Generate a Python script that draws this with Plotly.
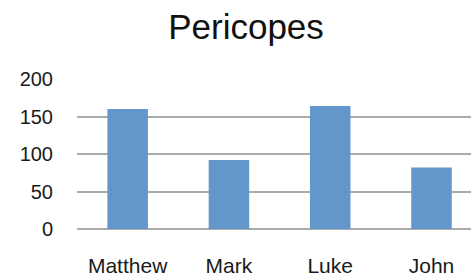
import plotly.graph_objects as go

categories = ["Matthew", "Mark", "Luke", "John"]
values = [160, 92, 164, 82]
y_ticks = [0, 50, 100, 150, 200]

FONT = "Liberation Sans"

fig = go.Figure(
    go.Bar(
        x=categories,
        y=values,
        width=0.4,
        marker=dict(color="#6397CC", line=dict(width=0)),
    )
)

fig.update_layout(
    width=471,
    height=278,
    margin=dict(l=77, r=0, t=79, b=49, autoexpand=False),
    paper_bgcolor="white",
    plot_bgcolor="white",
    showlegend=False,
    font=dict(family=FONT, color="#1a1a1a"),
    title=dict(
        text="Pericopes",
        x=246 / 471,
        xref="container",
        xanchor="center",
        y=1 - 27 / 278,
        yref="container",
        yanchor="middle",
        font=dict(size=35, family=FONT, color="#111111"),
    ),
)

fig.update_xaxes(
    range=[-0.5, 3.39],
    showgrid=False,
    showline=False,
    zeroline=False,
    ticks="",
    tickfont=dict(size=21, family=FONT, color="#1a1a1a"),
    ticklabelstandoff=22,
)
fig.update_yaxes(
    range=[0, 200],
    tickvals=y_ticks,
    showgrid=True,
    gridcolor="#ababab",
    gridwidth=2,
    zeroline=True,
    zerolinecolor="#ababab",
    zerolinewidth=2,
    showline=False,
    ticks="",
    tickfont=dict(size=20, family=FONT, color="#1a1a1a"),
    ticklabelstandoff=23,
)

fig.write_html(
    "out.html",
    config={"displayModeBar": False},
    post_script="document.body.style.margin='0';document.body.style.padding='0';",
)
